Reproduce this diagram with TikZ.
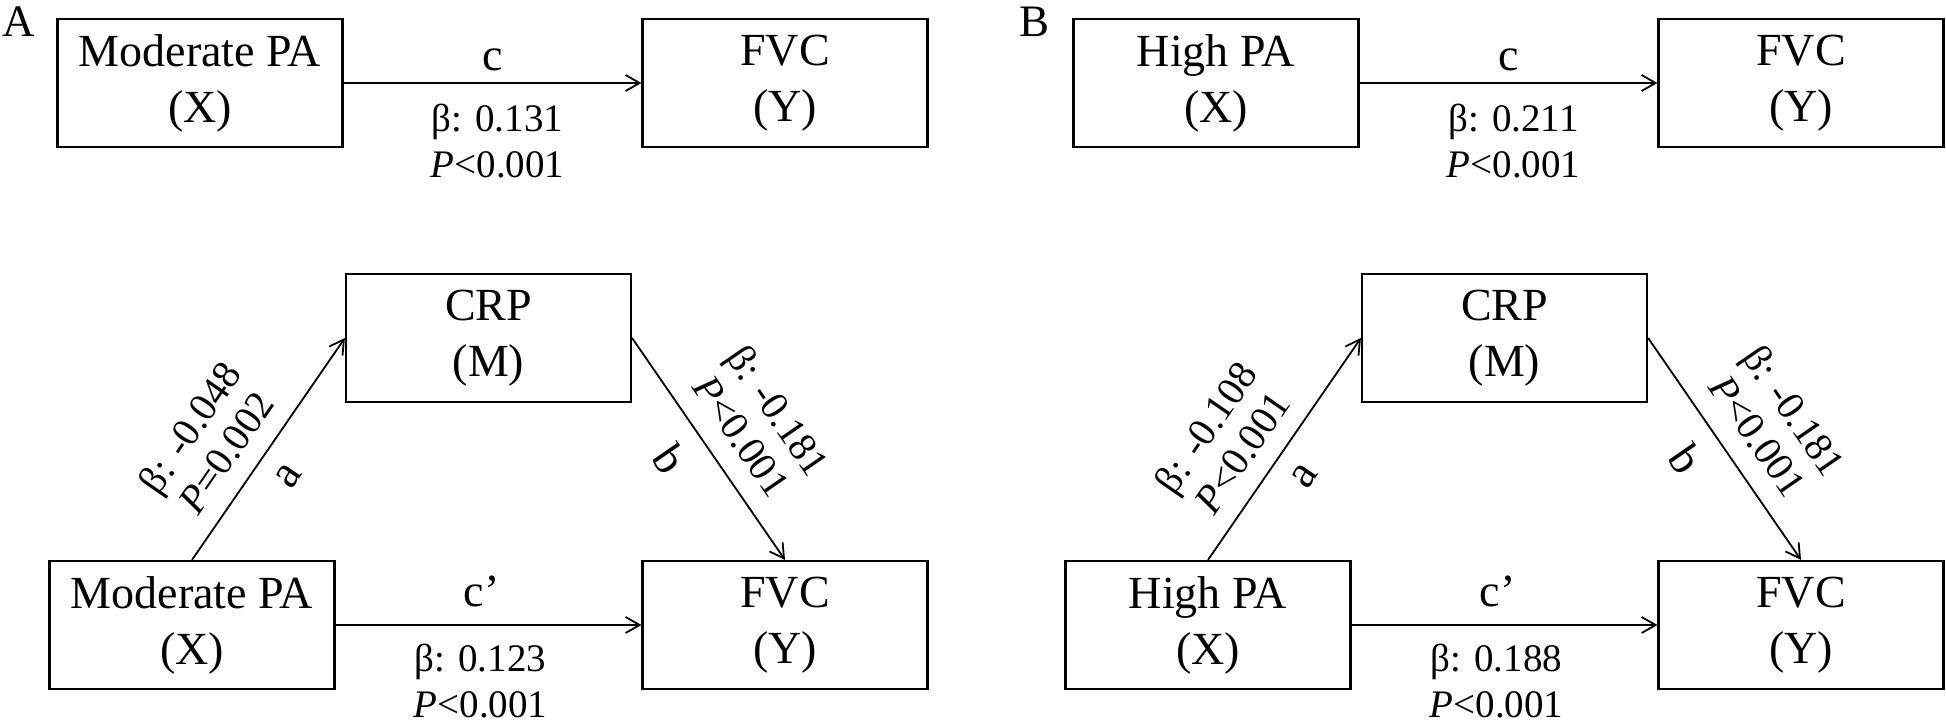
\documentclass[tikz,border=0pt]{standalone}
\usepackage{fontspec}
\setmainfont{Liberation Serif}
\usetikzlibrary{arrows.meta,positioning}

\tikzset{
  varbox/.style={draw, line width=1.1pt, minimum width=142.5pt, minimum height=64pt,
    align=center, font=\fontsize{23}{28}\selectfont},
  arr/.style={-{Straight Barb[length=7pt,width=8pt]}, line width=0.9pt},
  coef/.style={align=center, font=\fontsize{19.5}{23}\selectfont},
  coefs/.style={align=center, font=\fontsize{20}{22}\selectfont},
  pathlbl/.style={font=\fontsize{23}{28}\selectfont},
  panel/.style={anchor=base west, font=\fontsize{22.5}{27}\selectfont}
}

\begin{document}
\begin{tikzpicture}[x=0.5pt, y=-0.5pt, every node/.style={inner sep=0pt}]
  \useasboundingbox (0,0) rectangle (1946,722);
  \def\dx{1016} % shift of panel B

  % ---- panel A ----
  \node[panel] (labA) at (2,37) {A};

  % total effect
  \node[varbox] (xtA) at (200,83) {Moderate PA\\(X)};
  \node[varbox] (ytA) at (785,83) {FVC\\(Y)};
  \draw[arr] (xtA) -- node[above=5.5pt, pathlbl]{c}
    node[below=10pt, xshift=2.5pt, coef]{β: 0.131\\\textit{P}<0.001} (ytA);

  % mediation
  \node[varbox] (mA) at (488.5,338) {CRP\\(M)};
  \node[varbox] (xbA) at (192,625) {Moderate PA\\(X)};
  \node[varbox] (ybA) at (785,625) {FVC\\(Y)};
  \draw[arr] (xbA.north) -- node[sloped, pos=0.4, above=9pt, coefs]{β: -0.048\\\textit{P}=0.002}
    node[sloped, pos=0.46, below=10pt, pathlbl]{a} (mA.west);
  \draw[arr] (mA.east) -- node[sloped, pos=0.53, above=10pt, coefs]{β: -0.181\\\textit{P}<0.001}
    node[sloped, pos=0.45, below=10pt, pathlbl]{b} (ybA.north);
  \draw[arr] (xbA) -- node[above=8.5pt, xshift=-3.5pt, pathlbl]{c’}
    node[below=9pt, xshift=-4pt, coef]{β: 0.123\\\textit{P}<0.001} (ybA);

  % ---- panel B ----
  \node[panel] (labB) at (\dx+3,37) {B};

  % total effect
  \node[varbox] (xtB) at (\dx+200,83) {High PA\\(X)};
  \node[varbox] (ytB) at (\dx+785,83) {FVC\\(Y)};
  \draw[arr] (xtB) -- node[above=5.5pt, pathlbl]{c}
    node[below=10pt, xshift=2.5pt, coef]{β: 0.211\\\textit{P}<0.001} (ytB);

  % mediation
  \node[varbox] (mB) at (\dx+488.5,338) {CRP\\(M)};
  \node[varbox] (xbB) at (\dx+192,625) {High PA\\(X)};
  \node[varbox] (ybB) at (\dx+785,625) {FVC\\(Y)};
  \draw[arr] (xbB.north) -- node[sloped, pos=0.4, above=9pt, coefs]{β: -0.108\\\textit{P}<0.001}
    node[sloped, pos=0.46, below=10pt, pathlbl]{a} (mB.west);
  \draw[arr] (mB.east) -- node[sloped, pos=0.53, above=10pt, coefs]{β: -0.181\\\textit{P}<0.001}
    node[sloped, pos=0.45, below=10pt, pathlbl]{b} (ybB.north);
  \draw[arr] (xbB) -- node[above=8.5pt, xshift=-3.5pt, pathlbl]{c’}
    node[below=9pt, xshift=-4pt, coef]{β: 0.188\\\textit{P}<0.001} (ybB);

\end{tikzpicture}
\end{document}
